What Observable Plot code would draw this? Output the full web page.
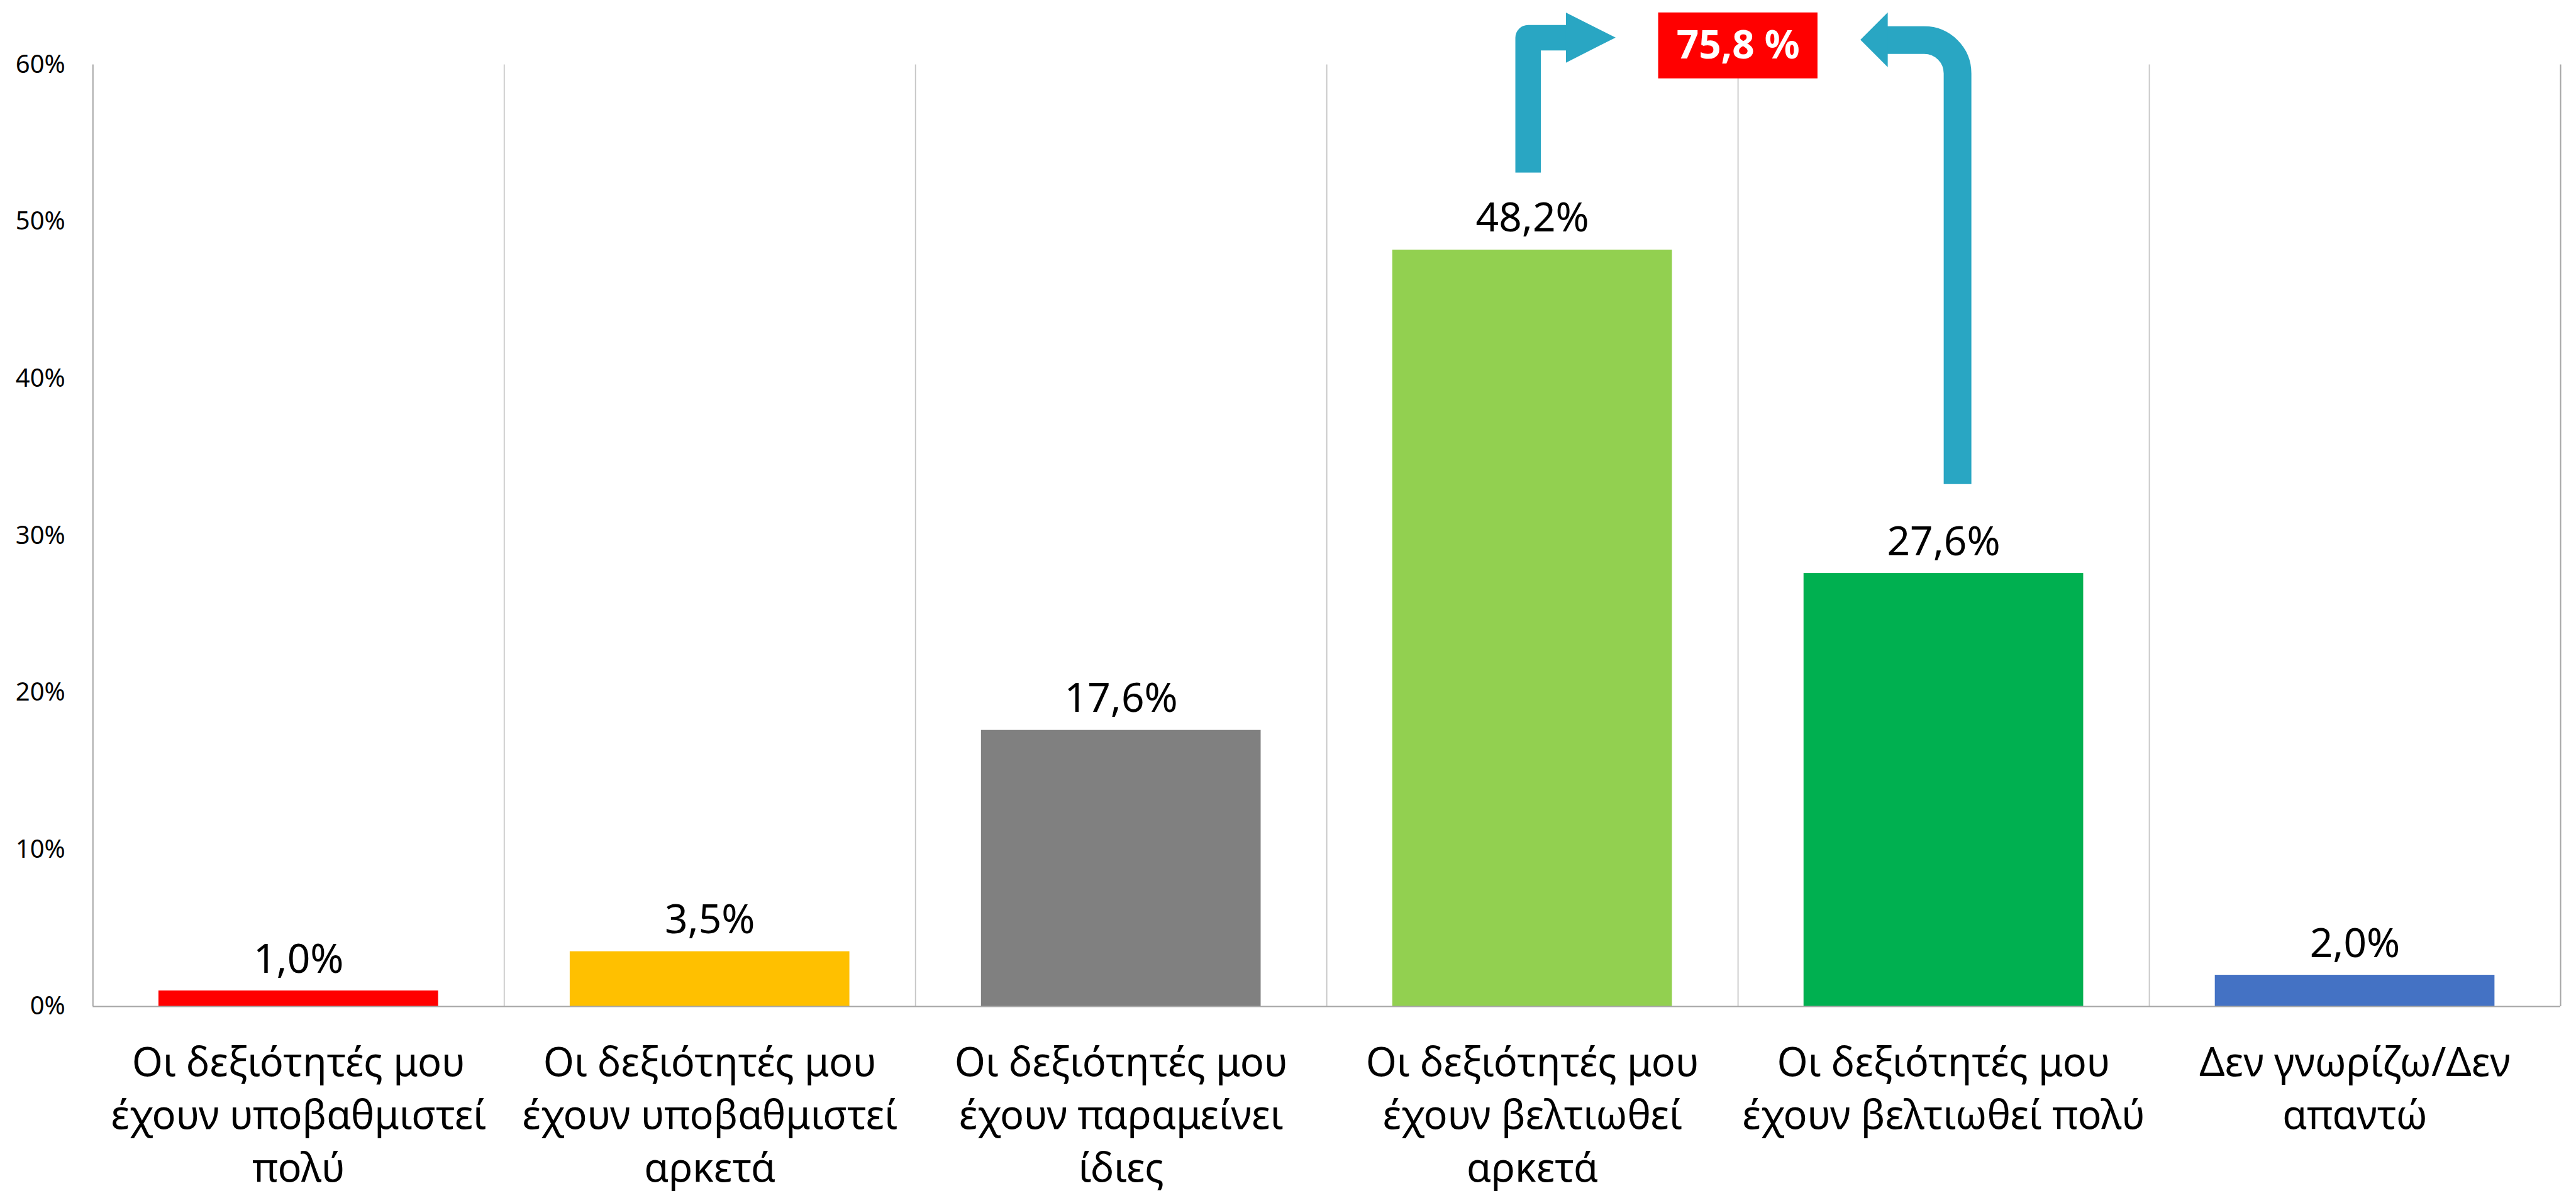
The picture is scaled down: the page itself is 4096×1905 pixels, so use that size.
<!DOCTYPE html>
<html><head><meta charset="utf-8">
<script src="https://cdn.jsdelivr.net/npm/d3@7"></script>
<script src="https://cdn.jsdelivr.net/npm/@observablehq/plot@0.6"></script>
<style>html,body{margin:0;padding:0;background:#fff;overflow:hidden} svg{display:block}</style>
</head><body><div id="chart"></div>
<script>
// ---- data ----
const categories = [
  "Οι δεξιότητές μου έχουν υποβαθμιστεί πολύ",
  "Οι δεξιότητές μου έχουν υποβαθμιστεί αρκετά",
  "Οι δεξιότητές μου έχουν παραμείνει ίδιες",
  "Οι δεξιότητές μου έχουν βελτιωθεί αρκετά",
  "Οι δεξιότητές μου έχουν βελτιωθεί πολύ",
  "Δεν γνωρίζω/Δεν απαντώ"
];
const tickLabels = [
  "Οι δεξιότητές μου\nέχουν υποβαθμιστεί\nπολύ",
  "Οι δεξιότητές μου\nέχουν υποβαθμιστεί\nαρκετά",
  "Οι δεξιότητές μου\nέχουν παραμείνει\nίδιες",
  "Οι δεξιότητές μου\nέχουν βελτιωθεί\nαρκετά",
  "Οι δεξιότητές μου\nέχουν βελτιωθεί πολύ",
  "Δεν γνωρίζω/Δεν\nαπαντώ"
];
const values = [1.0, 3.5, 17.6, 48.2, 27.6, 2.0];
const barColors = ["#FF0000", "#FFC000", "#808080", "#92D050", "#00B050", "#4472C4"];
const yTicks = [0, 10, 20, 30, 40, 50, 60];
const totalText = ["75,8 %"];
// annotation geometry in data units (x: category index scale, y: percent)
const totalBoxX = [3.8065, 4.1939];
const totalBoxY = [59.11, 63.31];
const leftShaft = [[3.4895, 53.13], [3.4895, 61.72], [3.595, 61.72]];
const leftHead = [[3.5823, 60.11, 63.30], [3.7031, 61.71, 61.71]];
const rightShaft = [[4.355, 61.57], [4.5337, 61.57], [4.5337, 33.28]];
const rightHead = [[4.2982, 61.57, 61.57], [4.3647, 59.83, 63.31]];

const bars = categories.map((c, i) => ({i, cat: c, label: tickLabels[i], value: values[i], color: barColors[i]}));
const arrowColor = "#29A6C3";

// curve factory: straight segments joined by circular arcs of radius r (px)
function roundedCorner(r) {
  return function (context) {
    let pts = [];
    return {
      areaStart() {}, areaEnd() {},
      lineStart() { pts = []; },
      point(x, y) { pts.push([+x, +y]); },
      lineEnd() {
        if (!pts.length) return;
        context.moveTo(pts[0][0], pts[0][1]);
        for (let k = 1; k < pts.length - 1; ++k) {
          context.arcTo(pts[k][0], pts[k][1], pts[k + 1][0], pts[k + 1][1], r);
        }
        const last = pts[pts.length - 1];
        context.lineTo(last[0], last[1]);
      }
    };
  };
}

const chart = Plot.plot({
  width: 4096,
  height: 1905,
  marginLeft: 147.3,
  marginRight: 25,
  marginTop: 102.4,
  marginBottom: 305,
  style: {fontFamily: "'Noto Sans', sans-serif", fontSize: "40px", color: "#000", background: "#fff"},
  x: {domain: [0, 6], axis: null},
  y: {domain: [0, 60], axis: null},
  color: {type: "identity"},
  marks: [
    Plot.ruleX([1, 2, 3, 4, 5], {y1: 0, y2: 60, stroke: "#c6c6c6", strokeWidth: 1.8}),
    Plot.ruleX([0, 6], {y1: 0, y2: 60, stroke: "#a6a6a6", strokeWidth: 2}),
    Plot.axisY({ticks: yTicks, tickFormat: d => d + "%", tickSize: 0, tickPadding: 44, fontSize: 40, fill: "#000", label: null}),
    Plot.rectY(bars, {x1: d => d.i + 0.16, x2: d => d.i + 0.84, y: "value", fill: "color"}),
    Plot.ruleY([0], {x1: 0, x2: 6, stroke: "#a6a6a6", strokeWidth: 2.2}),
    Plot.text(bars, {x: d => d.i + 0.5, y: "value", text: d => d.value.toFixed(1).replace(".", ",") + "%",
      lineAnchor: "bottom", dy: -29, fontSize: 64, fill: "#000"}),
    Plot.text(bars, {x: d => d.i + 0.5, y: 0, text: "label", lineAnchor: "top", dy: 51,
      fontSize: 63, lineHeight: 1.33, fill: "#000"}),
    // arrows
    Plot.line(leftShaft, {x: d => d[0], y: d => d[1], stroke: arrowColor, strokeWidth: 40.5,
      strokeLinecap: "butt", strokeLinejoin: "round"}),
    Plot.areaY(leftHead, {x: d => d[0], y1: d => d[1], y2: d => d[2], fill: arrowColor}),
    Plot.line(rightShaft, {x: d => d[0], y: d => d[1], stroke: arrowColor, strokeWidth: 44,
      strokeLinecap: "butt", strokeLinejoin: "round", curve: roundedCorner(53)}),
    Plot.areaY(rightHead, {x: d => d[0], y1: d => d[1], y2: d => d[2], fill: arrowColor}),
    // total box
    Plot.rect(totalText, {x1: totalBoxX[0], x2: totalBoxX[1], y1: totalBoxY[0], y2: totalBoxY[1], fill: "#FF0000"}),
    Plot.text(totalText, {x: (totalBoxX[0] + totalBoxX[1]) / 2, y: (totalBoxY[0] + totalBoxY[1]) / 2,
      text: d => d, fill: "#fff", fontWeight: "bold", fontSize: 62})
  ]
});
document.getElementById("chart").appendChild(chart);
</script>
</body></html>
